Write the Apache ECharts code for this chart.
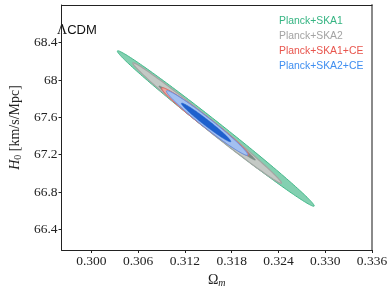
<!DOCTYPE html>
<html>
<head>
<meta charset="utf-8">
<script src="https://cdn.jsdelivr.net/npm/echarts@6/dist/echarts.min.js"></script>
<style>html,body{margin:0;padding:0;background:#fff}#c{width:392px;height:295px}</style>
</head>
<body>
<div id="c"></div>
<script>
// Legend labels
const labels = ['Planck+SKA1', 'Planck+SKA2', 'Planck+SKA1+CE', 'Planck+SKA2+CE'];
// Tick values
const xTicks = [0.300, 0.306, 0.312, 0.318, 0.324, 0.330, 0.336];
const yTicks = [66.4, 66.8, 67.2, 67.6, 68.0, 68.4];
// Contours: [Ωm centre, H0 centre, Ωm half-extent, H0 half-extent, correlation]
const ska1Outer   = [0.31596, 67.480, 0.01263, 0.8336, -0.9948];
const ska2Outer   = [0.31485, 67.539, 0.009537, 0.6455, -0.9942];
const ska2Inner   = [0.31485, 67.539, 0.006192, 0.3981, -0.9942];
const ska1ceOuter = [0.31460, 67.555, 0.005584, 0.3629, -0.9823];
const ska2ceOuter = [0.31485, 67.539, 0.005215, 0.3467, -0.9817];
const ska2ceInner = [0.31472, 67.545, 0.003171, 0.2074, -0.9806];

const legendColors = ['#35b482', '#a3a3a3', '#e8554d', '#3f8ef0'];

const chart = echarts.init(document.getElementById('c'), null, {renderer: 'canvas'});

function makeRender(styles) {
  return function (params, api) {
    const cx = api.value(0), cy = api.value(1), hx = api.value(2), hy = api.value(3), r = api.value(4);
    const s = Math.sqrt(1 - r * r);
    const pts = [];
    const n = 180;
    for (let i = 0; i < n; i++) {
      const t = i / n * 2 * Math.PI;
      pts.push(api.coord([cx + hx * Math.cos(t), cy + hy * (r * Math.cos(t) + s * Math.sin(t))]));
    }
    const st = styles[params.dataIndex];
    return {type: 'polygon', shape: {points: pts}, style: {fill: st.fill, stroke: st.stroke, lineWidth: st.lw}, silent: true};
  };
}

function ser(name, data, styles) {
  return {type: 'custom', name: name, data: data, renderItem: makeRender(styles), clip: true, animation: false};
}

const serif = 'Liberation Serif';

chart.setOption({
  animation: false,
  grid: {left: 49, right: 20, top: 5, bottom: 45},
  legend: {
    orient: 'vertical', left: 269, top: 11, icon: 'none', itemWidth: 0, itemHeight: 10, itemGap: 5,
    selectedMode: false,
    textStyle: {fontFamily: 'Liberation Sans', fontSize: 10.4},
    data: labels.map((n, i) => ({name: n, textStyle: {color: legendColors[i]}}))
  },
  xAxis: [{
    type: 'value', min: 0.29617, max: 0.336,
    axisLine: {show: true, lineStyle: {color: '#222', width: 1}},
    axisTick: {show: true, inside: false, length: 3, customValues: xTicks, lineStyle: {color: '#222'}},
    axisLabel: {customValues: xTicks, formatter: v => v.toFixed(3), color: '#222', fontFamily: serif, fontSize: 13.5, margin: 4},
    splitLine: {show: false},
    name: '{o|Ω}{m|m}', nameLocation: 'middle', nameGap: 16,
    nameTextStyle: {rich: {o: {fontFamily: serif, fontSize: 14, color: '#222'}, m: {fontFamily: serif, fontStyle: 'italic', fontSize: 10, color: '#222', verticalAlign: 'bottom', padding: [6, 0, 0, 0]}}}
  }, {
    type: 'value', position: 'top', min: 0.29617, max: 0.336,
    axisLine: {show: true, lineStyle: {color: '#222', width: 1}},
    axisTick: {show: false}, axisLabel: {show: false}, splitLine: {show: false}
  }],
  yAxis: [{
    type: 'value', min: 66.178, max: 68.804,
    axisLine: {show: true, lineStyle: {color: '#222', width: 1}},
    axisTick: {show: true, inside: false, length: 3, customValues: yTicks, lineStyle: {color: '#222'}},
    axisLabel: {customValues: yTicks, formatter: v => String(Math.round(v * 10) / 10), color: '#222', fontFamily: serif, fontSize: 13.5, margin: 4},
    splitLine: {show: false},
    name: '{h|H}{s|0}{t| [km/s/Mpc]}', nameLocation: 'middle', nameGap: 33,
    nameTextStyle: {rich: {h: {fontFamily: serif, fontStyle: 'italic', fontSize: 14, color: '#222'}, s: {fontFamily: serif, fontSize: 10, color: '#222', verticalAlign: 'bottom', padding: [6, 0, 0, 0]}, t: {fontFamily: serif, fontSize: 14, color: '#222'}}}
  }, {
    type: 'value', position: 'right', min: 66.178, max: 68.804,
    axisLine: {show: true, lineStyle: {color: '#8a8a8a', width: 2}},
    axisTick: {show: false}, axisLabel: {show: false}, splitLine: {show: false}
  }],
  graphic: [{
    type: 'text', left: 57, top: 23,
    style: {text: '{a|Λ}{b|CDM}', rich: {a: {fontFamily: serif, fontSize: 14, fill: '#111'}, b: {fontFamily: 'Liberation Sans', fontSize: 13, fill: '#111'}}}
  }],
  series: [
    ser(labels[0], [ska1Outer], [{fill: '#83d0b1', stroke: '#44b98a', lw: 1}]),
    ser(labels[1], [ska2Outer, ska2Inner], [{fill: '#c4c9c5', stroke: '#a2a6a3', lw: 1.2}, {fill: '#7d8c85', stroke: '#7d8c85', lw: 0.5}]),
    ser(labels[2], [ska1ceOuter], [{fill: '#e9a7a1', stroke: '#e5605a', lw: 1}]),
    ser(labels[3], [ska2ceOuter, ska2ceInner], [{fill: '#a3c0f0', stroke: '#5d8fe2', lw: 1}, {fill: '#1e60cd', stroke: '#1e60cd', lw: 0.5}])
  ]
});
</script>
</body>
</html>
